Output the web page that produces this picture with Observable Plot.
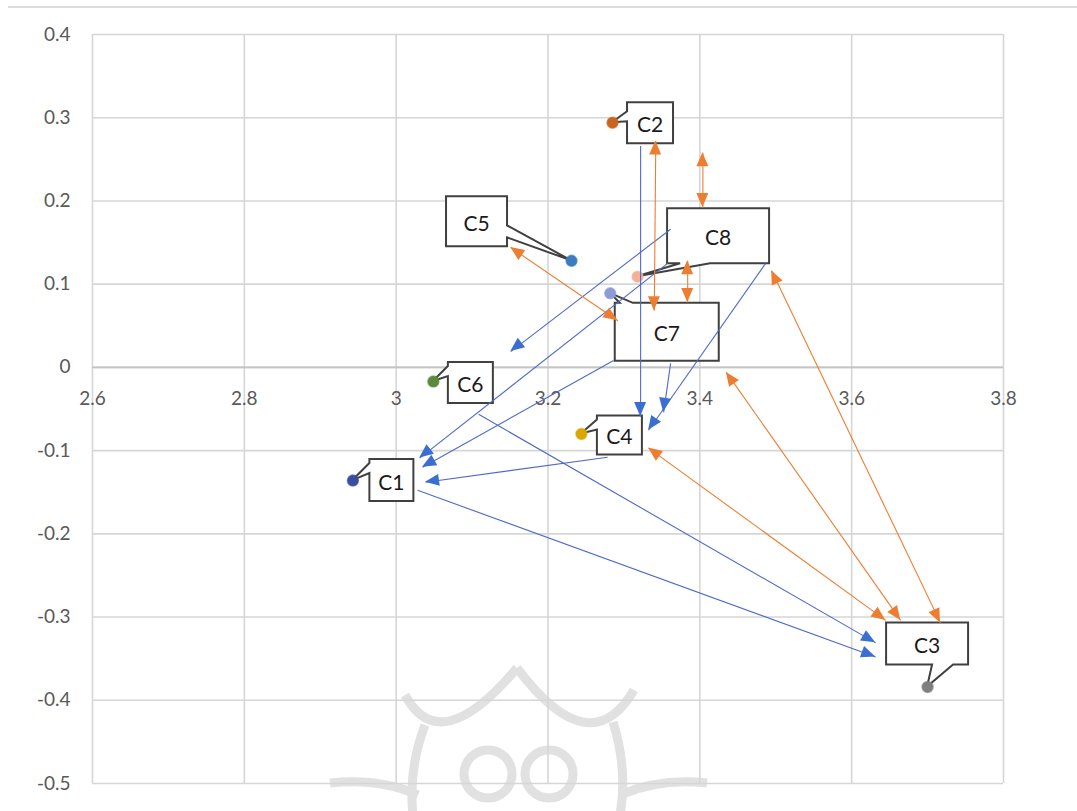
<!DOCTYPE html>
<html><head><meta charset="utf-8">
<script src="https://cdn.jsdelivr.net/npm/d3@7"></script>
<script src="https://cdn.jsdelivr.net/npm/@observablehq/plot@0.6"></script>
<style>
body{margin:0;background:#fff;}
#wrap{position:relative;width:1077px;height:811px;overflow:hidden;}
#topline{position:absolute;left:8px;top:6px;width:1069px;height:2px;background:#dcdcdc;}
svg{display:block;}
</style></head><body><div id="wrap"></div>
<script>
// ---- data ----
const clusters = ["C1","C2","C3","C4","C5","C6","C7","C8"];
const xValues  = [2.943, 3.285, 3.700, 3.244, 3.231, 3.049, 3.282, 3.318];
const yValues  = [-0.136, 0.294, -0.384, -0.080, 0.128, -0.017, 0.089, 0.109];
const colors   = ["#3B4E9E","#C9641E","#7F7F7F","#D8A800","#3A7DBF","#5A8A3A","#8E9BD6","#F2B295"];
const xTicks = [2.6, 2.8, 3, 3.2, 3.4, 3.6, 3.8];
const yTicks = [0.4, 0.3, 0.2, 0.1, 0, -0.1, -0.2, -0.3, -0.4, -0.5];
// single-headed (blue) arrows: from -> to
const blueFromX = [3.322, 3.3615, 3.3576, 3.2864, 3.2785, 3.1086, 3.0282, 3.3615, 3.4867];
const blueFromY = [0.266, 0.166, 0.125, 0.0084, -0.108, -0.0564, -0.1476, 0.0048, 0.125];
const blueToX   = [3.322, 3.151, 3.031, 3.0348, 3.0387, 3.6316, 3.6316, 3.3523, 3.3325];
const blueToY   = [-0.059, 0.019, -0.109, -0.120, -0.138, -0.331, -0.348, -0.054, -0.0756];
// double-headed (orange) arrows
const orangeFromX = [3.342, 3.404, 3.384, 3.151, 3.4946, 3.435, 3.3325];
const orangeFromY = [0.272, 0.258, 0.128, 0.144, 0.116, -0.006, -0.097];
const orangeToX   = [3.340, 3.404, 3.384, 3.292, 3.717, 3.6646, 3.645];
const orangeToY   = [0.068, 0.192, 0.078, 0.056, -0.307, -0.304, -0.304];

// ---- tables built from the arrays ----
const points = clusters.map((c, i) => ({name: c, x: xValues[i], y: yValues[i], color: colors[i]}));
const blueArrows = blueFromX.map((_, i) => ({x1: blueFromX[i], y1: blueFromY[i], x2: blueToX[i], y2: blueToY[i]}));
const orangeArrows = orangeFromX.map((_, i) => ({x1: orangeFromX[i], y1: orangeFromY[i], x2: orangeToX[i], y2: orangeToY[i]}));

// ---- callout layout (pixel offsets from each point; styling, not data) ----
const calloutLayout = {
  C1: {dx1: 17, dx2: 61, dy1: -21, dy2: 21, side: "l", b0: -17, b1: -7},
  C2: {dx1: 15, dx2: 61, dy1: -20, dy2: 21, side: "l", b0: -11, b1: -1},
  C3: {dx1: -41, dx2: 41, dy1: -64, dy2: -22, side: "b", b0: 5, b1: 26},
  C4: {dx1: 16, dx2: 61, dy1: -18, dy2: 21, side: "l", b0: -14, b1: -4},
  C5: {dx1: -125, dx2: -64, dy1: -64, dy2: -14, side: "r", b0: -35, b1: -23},
  C6: {dx1: 15, dx2: 60, dy1: -19, dy2: 22, side: "l", b0: -15, b1: -5},
  C7: {dx1: 5, dx2: 109, dy1: 10, dy2: 68, side: "t", b0: 10, b1: 23},
  C8: {dx1: 30, dx2: 132, dy1: -68, dy2: -13, side: "b", b0: 43, b1: 73}
};

const FONT = "Lato, 'Open Sans', sans-serif";
const BLUE_LINE = "#4F6ACB", BLUE_HEAD = "#3B6ED0", ORANGE = "#ED7D31";

function scaleFns(scales, dims) {
  const sx = scales && scales.x ? scales.x :
    v => dims.marginLeft + (v - 2.6) / 1.2 * (dims.width - dims.marginLeft - dims.marginRight);
  const sy = scales && scales.y ? scales.y :
    v => dims.marginTop + (0.4 - v) / 0.9 * (dims.height - dims.marginTop - dims.marginBottom);
  return [sx, sy];
}

// faint background watermark ornament (decoration only)
function watermark(index, scales, values, dims) {
  const g = d3.create("svg:g").attr("fill", "none").attr("stroke", "#dcdcdc").attr("stroke-width", 9).attr("opacity", 0.85);
  const paths = [
    "M405,695 Q440,760 517,668",
    "M517,668 Q590,765 634,690",
    "M425,725 Q408,770 413,815",
    "M613,722 Q628,770 620,815",
    "M330,783 Q380,778 418,795",
    "M707,783 Q660,778 620,795"
  ];
  for (const p of paths) g.append("path").attr("d", p);
  g.append("circle").attr("cx", 488).attr("cy", 774).attr("r", 24);
  g.append("circle").attr("cx", 549).attr("cy", 774).attr("r", 24);
  return g.node();
}

function callouts(index, scales, values, dims) {
  const [sx, sy] = scaleFns(scales, dims);
  const g = d3.create("svg:g");
  for (const p of points) {
    const L = calloutLayout[p.name];
    const px = sx(p.x), py = sy(p.y);
    const x1 = px + L.dx1, x2 = px + L.dx2, y1 = py + L.dy1, y2 = py + L.dy2;
    const pts = [[x1, y1]];
    if (L.side === "t") pts.push([px + L.b0, y1], [px, py], [px + L.b1, y1]);
    pts.push([x2, y1]);
    if (L.side === "r") pts.push([x2, py + L.b0], [px, py], [x2, py + L.b1]);
    pts.push([x2, y2]);
    if (L.side === "b") pts.push([px + L.b1, y2], [px, py], [px + L.b0, y2]);
    pts.push([x1, y2]);
    if (L.side === "l") pts.push([x1, py + L.b1], [px, py], [x1, py + L.b0]);
    g.append("path")
      .attr("d", "M" + pts.map(q => q.join(",")).join("L") + "Z")
      .attr("fill", "#fff").attr("stroke", "#404040").attr("stroke-width", 2).attr("stroke-linejoin", "miter");
    g.append("text")
      .attr("x", (x1 + x2) / 2).attr("y", (y1 + y2) / 2 + 1)
      .attr("text-anchor", "middle").attr("dominant-baseline", "central")
      .attr("font-family", FONT).attr("font-size", 21).attr("fill", "#1a1a1a")
      .text(p.name);
  }
  return g.node();
}

function heads(index, scales, values, dims) {
  const [sx, sy] = scaleFns(scales, dims);
  const g = d3.create("svg:g");
  const head = (ax, ay, bx, by, color) => {
    const x0 = sx(ax), y0 = sy(ay), x1 = sx(bx), y1 = sy(by);
    const a = Math.atan2(y1 - y0, x1 - x0);
    const len = 14, w = 6;
    const bx0 = x1 - len * Math.cos(a), by0 = y1 - len * Math.sin(a);
    const nx = -Math.sin(a) * w, ny = Math.cos(a) * w;
    g.append("path")
      .attr("d", `M${x1},${y1}L${bx0 + nx},${by0 + ny}L${bx0 - nx},${by0 - ny}Z`)
      .attr("fill", color);
  };
  for (const d of blueArrows) head(d.x1, d.y1, d.x2, d.y2, BLUE_HEAD);
  for (const d of orangeArrows) {
    head(d.x1, d.y1, d.x2, d.y2, ORANGE);
    head(d.x2, d.y2, d.x1, d.y1, ORANGE);
  }
  return g.node();
}

const chart = Plot.plot({
  width: 1077,
  height: 811,
  marginTop: 34,
  marginBottom: 28,
  marginLeft: 92,
  marginRight: 74,
  style: {fontFamily: FONT, background: "#fff", color: "#595959", overflow: "visible"},
  x: {domain: [2.6, 3.8], axis: null},
  y: {domain: [-0.5, 0.4], axis: null},
  marks: [
    watermark,
    Plot.gridX(xTicks, {stroke: "#d6d6d6", strokeOpacity: 1, strokeWidth: 1.6}),
    Plot.gridY(yTicks, {stroke: "#d6d6d6", strokeOpacity: 1, strokeWidth: 1.6}),
    Plot.ruleY([0], {stroke: "#c4c4c4", strokeWidth: 1.8}),
    Plot.axisY(yTicks, {tickSize: 0, tickPadding: 22, fontSize: 19, fill: "#595959", tickFormat: d => String(d)}),
    Plot.text(xTicks, {x: d => d, y: 0, text: d => String(d), dy: 32, fontSize: 19, fill: "#595959"}),
    callouts,
    Plot.dot(points, {x: "x", y: "y", r: 5.5, fill: "color", stroke: "color", strokeOpacity: 0.6}),
    Plot.link(blueArrows, {x1: "x1", y1: "y1", x2: "x2", y2: "y2", stroke: BLUE_LINE, strokeWidth: 1.1}),
    Plot.link(orangeArrows, {x1: "x1", y1: "y1", x2: "x2", y2: "y2", stroke: ORANGE, strokeWidth: 1.1}),
    heads
  ]
});
const wrap = document.getElementById("wrap");
wrap.appendChild(chart);
const tl = document.createElement("div");
tl.id = "topline";
wrap.appendChild(tl);
</script>
</body></html>
